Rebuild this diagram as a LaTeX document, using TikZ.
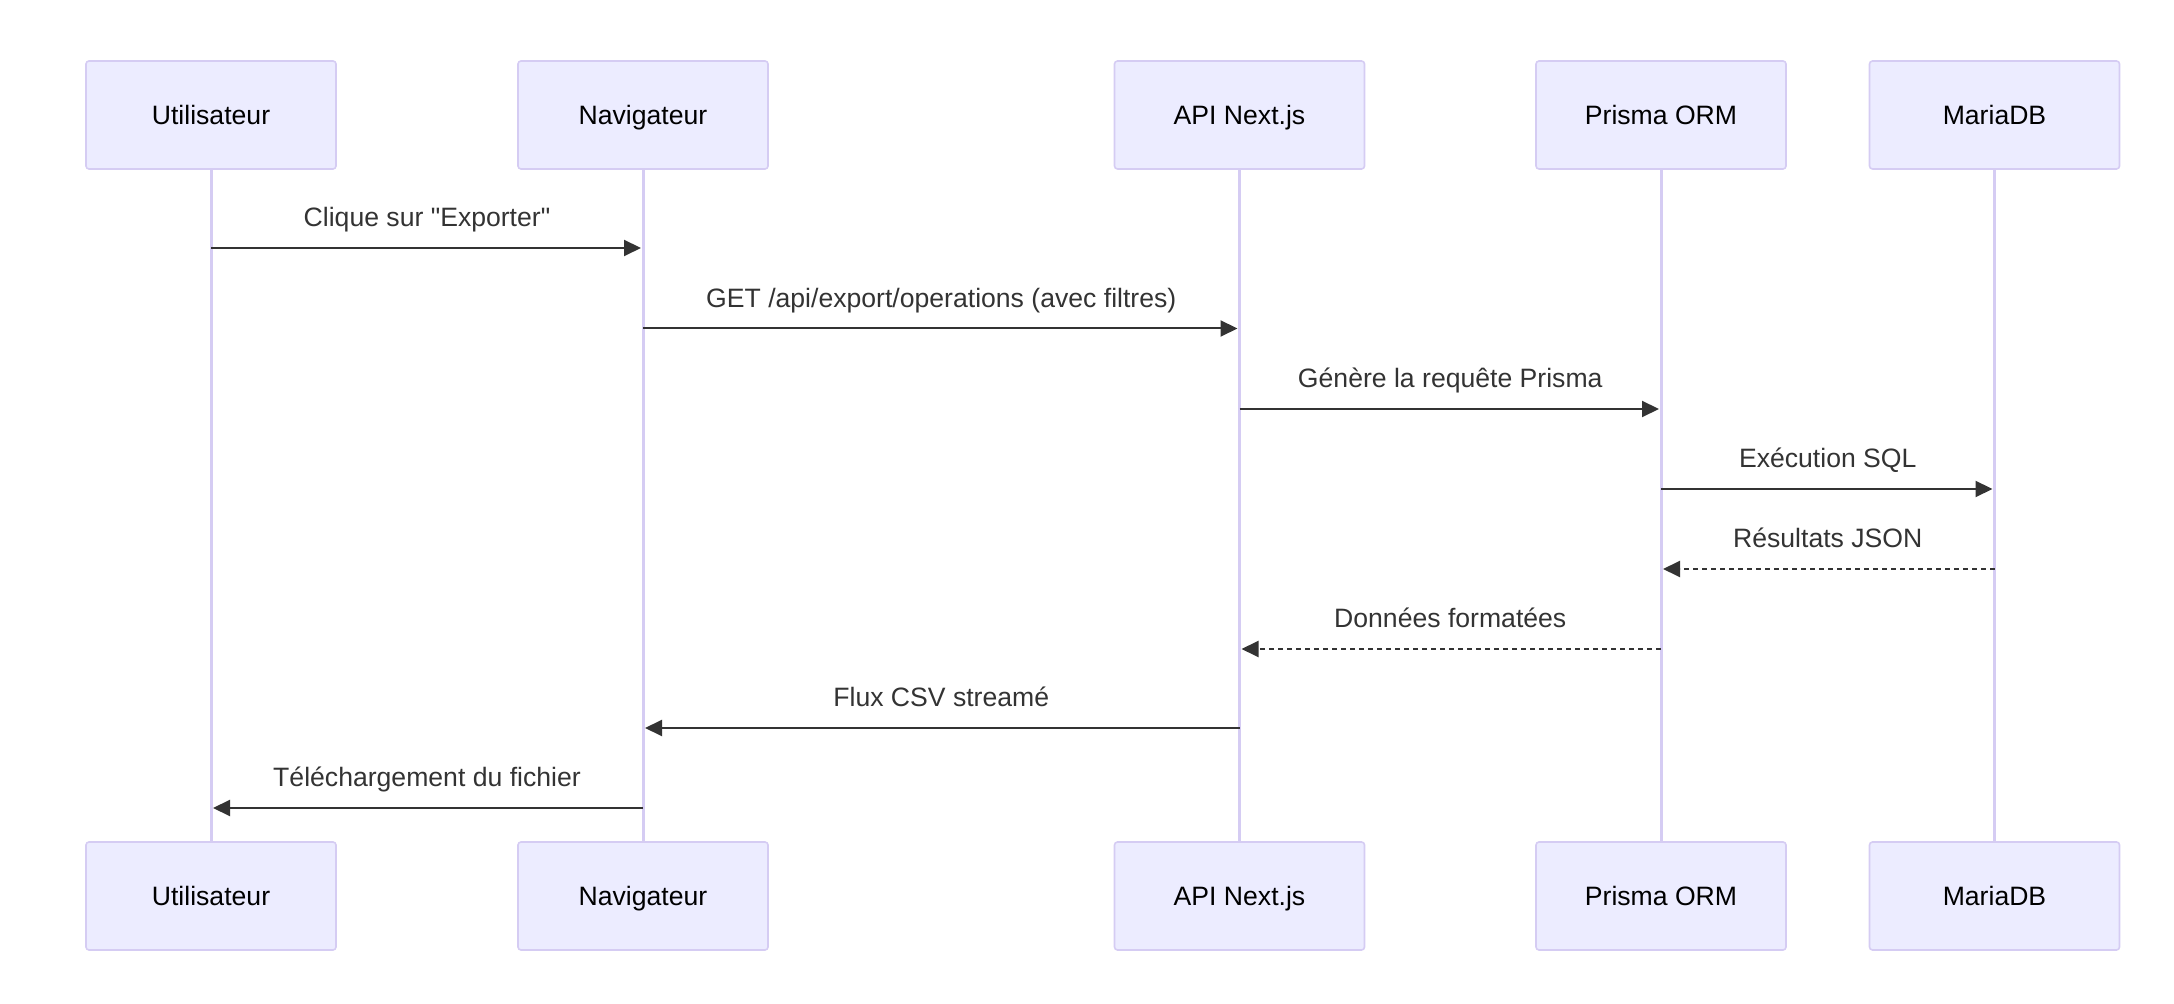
\documentclass[tikz,border=0pt]{standalone}
\usepackage{fontspec}
\setmainfont{Liberation Sans}
\usetikzlibrary{arrows.meta}
\definecolor{actorfill}{HTML}{ECECFF}
\definecolor{actorline}{HTML}{D5CCF3}
\definecolor{msgline}{HTML}{333333}
\begin{document}
\begin{tikzpicture}[x=0.5pt, y=-0.5pt,
  actor/.style = {draw=actorline, line width=0.8pt, fill=actorfill, rounded corners=1.5pt, minimum width=125pt, minimum height=54pt, text height=9.5pt, text depth=0pt, font=\fontsize{13.3}{16}\selectfont},
  life/.style = {draw=actorline, line width=1.5pt},
  msg/.style = {draw=msgline, line width=1pt, -{Triangle[length=8.5pt, width=8pt]}, shorten >=1pt},
  reply/.style = {msg, dash pattern=on 2.5pt off 2pt},
  lbl/.style = {anchor=base, yshift=10.5pt, text=msgline, inner sep=0pt, font=\fontsize{13.3}{16}\selectfont}]
\useasboundingbox (0,0) rectangle (2174,1004);

\node[actor] (1) at (211,115) {Utilisateur};
\node[actor] (2) at (643,115) {Navigateur};
\node[actor] (3) at (1239.5,115) {API Next.js};
\node[actor] (4) at (1661,115) {Prisma ORM};
\node[actor] (5) at (1994.5,115) {MariaDB};
\node[actor] (6) at (211,896) {Utilisateur};
\node[actor] (7) at (643,896) {Navigateur};
\node[actor] (8) at (1239.5,896) {API Next.js};
\node[actor] (9) at (1661,896) {Prisma ORM};
\node[actor] (10) at (1994.5,896) {MariaDB};

\draw[life] (1) -- (6);
\draw[life] (2) -- (7);
\draw[life] (3) -- (8);
\draw[life] (4) -- (9);
\draw[life] (5) -- (10);

\foreach \i/\y in {1/248, 2/328.5, 3/409, 4/489, 5/569, 6/649, 7/728, 8/808}
  \coordinate (m\i) at (0,\y);

\draw[msg] (1 |- m1) -- node[lbl] {Clique sur \textquotedbl Exporter\textquotedbl} (2 |- m1);
\draw[msg] (2 |- m2) -- node[lbl] {GET /api/export/operations (avec filtres)} (3 |- m2);
\draw[msg] (3 |- m3) -- node[lbl] {Génère la requête Prisma} (4 |- m3);
\draw[msg] (4 |- m4) -- node[lbl] {Exécution SQL} (5 |- m4);
\draw[reply] (5 |- m5) -- node[lbl] {Résultats JSON} (4 |- m5);
\draw[reply] (4 |- m6) -- node[lbl] {Données formatées} (3 |- m6);
\draw[msg] (3 |- m7) -- node[lbl] {Flux CSV streamé} (2 |- m7);
\draw[msg] (2 |- m8) -- node[lbl] {Téléchargement du fichier} (1 |- m8);
\end{tikzpicture}
\end{document}
